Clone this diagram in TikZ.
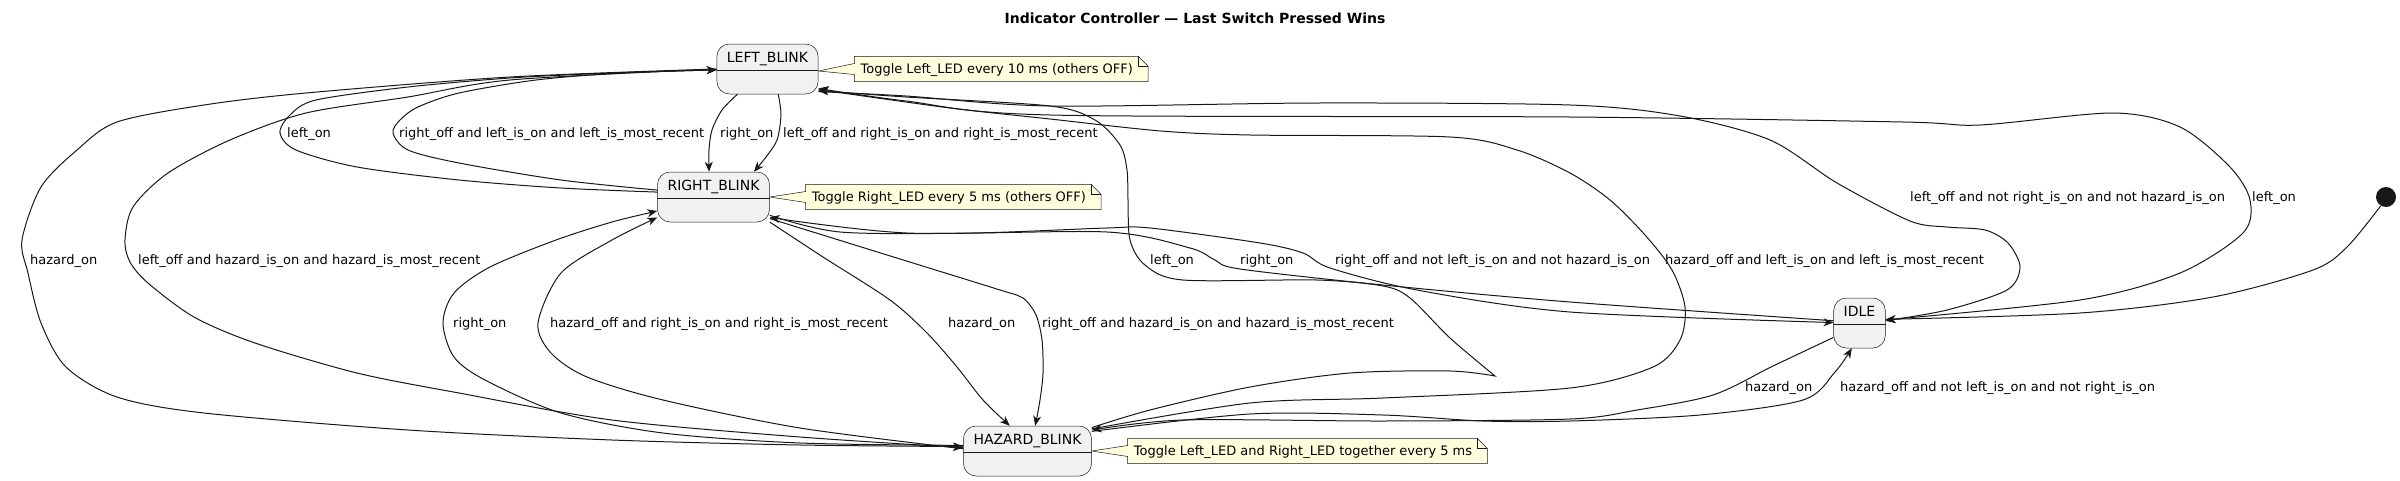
\documentclass[tikz,border=0pt]{standalone}
\usepackage{fontspec}
\setmainfont{DejaVu Sans}
\usetikzlibrary{arrows.meta}
\usetikzlibrary{positioning}
\usetikzlibrary{backgrounds}
\definecolor{statefill}{HTML}{F1F1F1}
\definecolor{umlline}{HTML}{181818}
\definecolor{notefill}{HTML}{FEFFDD}
\newcommand{\edgefont}{\fontsize{13}{15}\selectfont}
\newcommand{\statefont}{\fontsize{14}{16}\selectfont}
% note outline with folded corner and pointer: #1 note node, #2 apex
\newcommand{\notewedge}[2]{%
  \path[notebox] (#1.north west) -- ([xshift=-1pt]#1.north east) -- ([xshift=9pt,yshift=-10pt]#1.north east) -- ([xshift=9pt]#1.south east) -- (#1.south west) -- ([yshift=-5.5pt]#1.west) -- (#2) -- ([yshift=5.5pt]#1.west) -- cycle;
  \draw[notebox,fill=none] ([xshift=-1pt]#1.north east) -- ([xshift=-1pt,yshift=-10pt]#1.north east) -- ([xshift=9pt,yshift=-10pt]#1.north east);}

\begin{document}
\begin{tikzpicture}[x=1pt,y=-1pt,>={Stealth[length=10pt,width=8pt,inset=3pt]},node distance=36pt]
\tikzstyle{statebox}=[draw=umlline,line width=0.5pt,fill=statefill,rounded corners=12.5pt,font=\statefont,inner xsep=10pt,inner ysep=6pt,text height=12pt,text depth=26pt]
\tikzstyle{divider}=[draw=umlline,line width=0.5pt]
\tikzstyle{notetext}=[font=\edgefont,inner xsep=6pt,inner ysep=6pt,text height=10.5pt,text depth=2.5pt]
\tikzstyle{notebox}=[draw=umlline,line width=0.5pt,fill=notefill]
\tikzstyle{trans}=[->,draw=umlline,line width=1pt]
\tikzstyle{elabel}=[font=\edgefont,anchor=base west,inner sep=0pt]
\useasboundingbox (0,0) rectangle (2400,480);

\node[font=\statefont\bfseries,anchor=base] (title) at (1195,23) {Indicator Controller — Last Switch Pressed Wins};

\node[statebox] (left) at (767.5,69) {LEFT\_BLINK};
\node[statebox] (right) at (713.5,197) {RIGHT\_BLINK};
\node[statebox] (hazard) at (1027.5,451) {HAZARD\_BLINK};
\node[statebox] (idle) at (1859.5,323) {IDLE};
\foreach \s in {left,right,hazard,idle}
  \draw[divider] ([yshift=-26.5pt]\s.north west) -- ([yshift=-26.5pt]\s.north east);
\node[circle,fill=umlline,minimum size=20pt,inner sep=0pt] (init) at (2386,197) {};

\node[notetext,right=of left] (noteleft) {Toggle Left\_LED every 10 ms (others OFF)};
\node[notetext,right=of right] (noteright) {Toggle Right\_LED every 5 ms (others OFF)};
\node[notetext,right=of hazard] (notehazard) {Toggle Left\_LED and Right\_LED together every 5 ms};
\begin{scope}[on background layer]
\notewedge{noteleft}{[yshift=-2pt]left.east}
\notewedge{noteright}{right.east}
\notewedge{notehazard}{hazard.east}
\end{scope}

% left <-> right
\draw[trans] plot[smooth] coordinates {(left.220) (722,110) (712,130) (709,150) (right.100)};
\node[elabel] (lab1) at (720,137.5) {right\_on};
\draw[trans] plot[smooth] coordinates {(left.-67) (781,115) (777,140) (766,157) (right.32)};
\node[elabel] (lab2) at (783,137.5) {left\_off and right\_is\_on and right\_is\_most\_recent};
\draw[trans] plot[smooth] coordinates {(right.175) (561,188) (459,180) (357,167) (296,150) (280,133) (290,115) (316,100) (408,87) (510,78) (612,73) (left.181)};
\node[elabel] (lab3) at (287,137.5) {left\_on};
\draw[trans] plot[smooth] coordinates {(right.173) (561,180) (459,163) (408,150) (393,133) (400,120) (418,107) (459,93) (536,80) (620,73) (left.181)};
\node[elabel] (lab4) at (399,137.5) {right\_off and left\_is\_on and left\_is\_most\_recent};

% left -> hazard
\draw[trans] plot[smooth] coordinates {(left.180) (510,77) (306,93) (204,105) (117,122) (77,150) (41,187) (22,240) (28,273) (41,323) (66,367) (117,397) (204,413) (408,430) (612,440) (800,445) (hazard.176)};
\node[elabel] (lab5) at (30,264.5) {hazard\_on};
\draw[trans] plot[smooth] coordinates {(left.180) (510,80) (408,97) (306,113) (230,140) (168,173) (133,207) (125,240) (130,262) (148,283) (194,317) (255,343) (357,373) (459,393) (612,420) (800,437) (hazard.177)};
\node[elabel] (lab6) at (138,264.5) {left\_off and hazard\_is\_on and hazard\_is\_most\_recent};

% hazard <-> right
\draw[trans] plot[smooth] coordinates {(hazard.175) (800,443) (663,433) (561,413) (485,380) (454,357) (443,323) (454,293) (490,267) (556,240) (612,222) (right.194)};
\node[elabel] (lab7) at (453,327.5) {right\_on};
\draw[trans] plot[smooth] coordinates {(hazard.178) (800,428) (663,400) (587,377) (551,353) (538,323) (561,273) (612,240) (right.200)};
\node[elabel] (lab8) at (550,327.5) {hazard\_off and right\_is\_on and right\_is\_most\_recent};
\draw[trans] plot[smooth] coordinates {(right.-24) (823,257) (890,300) (927,333) (957,367) (983,400) (hazard.125)};
\node[elabel] (lab9) at (948,327.5) {hazard\_on};
\draw[trans] plot[smooth] coordinates {(right.-21) (900,259) (1000,290) (1023,298) (1036,315) (1042,340) (1043,373) (1040,400) (hazard.73)};
\node[elabel] (lab10) at (1042,327.5) {right\_off and hazard\_is\_on and hazard\_is\_most\_recent};

% hazard -> left
\draw[trans] plot[smooth] coordinates {(hazard.20) (1150,410) (1250,387) (1350,373) (1450,371) (1495,376)} -- plot[smooth] coordinates {(1495,376) (1450,338) (1410,298) (1383,286) (1317,280) (1183,280) (1145,265) (1130,240) (1128,200) (1127,170) (1120,145) (1095,120) (1050,106) (906,97) (left.-23)};
\node[elabel] (lab11) at (1150,264.5) {left\_on};
\draw[trans] plot[smooth] coordinates {(hazard.19) (1250,403) (1383,398) (1570,388) (1653,367) (1680,340) (1685,307) (1672,270) (1645,235) (1610,200) (1570,173) (1517,150) (1450,137) (1250,135) (1161,131) (1050,119) (950,108) (left.-22)};
\node[elabel] (lab14) at (1665,264.5) {hazard\_off and left\_is\_on and left\_is\_most\_recent};

% right <-> idle
\draw[trans] plot[smooth] coordinates {(idle.175) (1570,302) (1383,285) (1240,269) (1215,260) (1190,248) (1107,232) (907,233) (right.-20)};
\node[elabel] (lab12) at (1240,264.5) {right\_on};
\draw[trans] plot[smooth] coordinates {(right.-18) (840,232) (973,233) (1107,228) (1150,228) (1260,243) (1303,253) (1330,268) (1417,290) (1570,312) (idle.179)};
\node[elabel] (lab13) at (1335,264.5) {right\_off and not left\_is\_on and not hazard\_is\_on};

% idle <-> left
\draw[trans] plot[smooth] coordinates {(left.-24) (906,96) (1050,106) (1317,103) (1570,105) (1680,116) (1770,140) (1837,183) (1910,221) (1947,227) (1985,230) (2008,243) (2020,267) (2007,290) (1947,310) (idle.5)};
\node[elabel] (lab15) at (1910,201.5) {left\_off and not right\_is\_on and not hazard\_is\_on};
\draw[trans] plot[smooth] coordinates {(idle.7) (2080,300) (2180,273) (2243,233) (2250,200) (2230,167) (2180,127) (2113,113) (1980,125) (1903,122) (1570,117) (1050,115) (906,101) (left.-21)};
\node[elabel] (lab16) at (2252,201.5) {left\_on};

% idle <-> hazard
\draw[trans] plot[smooth] coordinates {(idle.209) (1773,366) (1713,395) (1637,410) (1570,419) (1383,421) (1183,420) (hazard.18)};
\node[elabel] (lab17) at (1745,391.5) {hazard\_on};
\draw[trans] plot[smooth] coordinates {(hazard.17) (1250,414) (1383,415) (1483,421) (1570,421) (1700,415) (1803,400) (1835,372) (idle.253)};
\node[elabel] (lab18) at (1840,391.5) {hazard\_off and not left\_is\_on and not right\_is\_on};

% initial state
\draw[trans] plot[smooth] coordinates {(init.-121) (2347,247) (2313,270) (2213,297) (2080,313) (idle.8)};
\end{tikzpicture}
\end{document}
